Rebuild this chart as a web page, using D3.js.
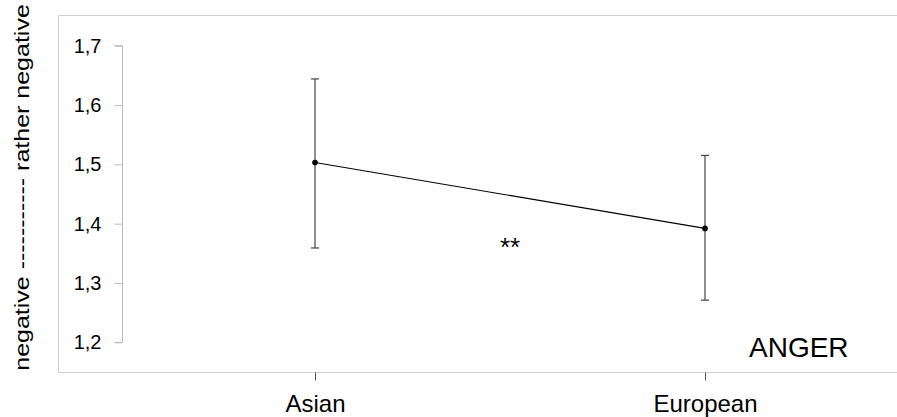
<!DOCTYPE html>
<html>
<head>
<meta charset="utf-8">
<script src="https://cdn.jsdelivr.net/npm/d3@7"></script>
<style>
  html, body { margin: 0; padding: 0; background: #fff; }
  svg { display: block; font-family: "Liberation Sans", Arial, sans-serif; }
</style>
</head>
<body>
<svg id="chart" width="897" height="417"></svg>
<script>
const categories = ["Asian", "European"];
const means = [1.503, 1.392];
const lowerCI = [1.359, 1.271];
const upperCI = [1.644, 1.515];
const yTicks = [1.2, 1.3, 1.4, 1.5, 1.6, 1.7];
const yTitle = "negative ----------- rather negative";
const significance = "**";
const panelLabel = "ANGER";

const svg = d3.select("#chart");

const x = d3.scalePoint().domain(categories).range([120, 900]).padding(0.5);
const y = d3.scaleLinear().domain([1.2, 1.7]).range([342.3, 45.7]);

// outer frame (top, left, bottom)
const frame = svg.append("g").attr("stroke", "#cfcfcf").attr("stroke-width", 1).attr("fill", "none");
frame.append("line").attr("x1", 58.5).attr("x2", 897).attr("y1", 15.5).attr("y2", 15.5);
frame.append("line").attr("x1", 58.5).attr("x2", 58.5).attr("y1", 15.5).attr("y2", 372.5);
frame.append("line").attr("x1", 58.5).attr("x2", 897).attr("y1", 372.5).attr("y2", 372.5);

// y axis
const yAxis = d3.axisLeft(y).tickValues(yTicks).tickSize(8).tickPadding(13)
  .tickFormat(d => d3.format(".1f")(d).replace(".", ","));
const gy = svg.append("g").attr("transform", "translate(122.5,0)").call(yAxis);
gy.select(".domain").attr("stroke", "#bdbdbd").attr("d", `M-8,${y(1.7)}H0V${y(1.2)}H-8`);
gy.selectAll(".tick line").attr("stroke", "#bdbdbd");
gy.selectAll(".tick text").attr("font-size", 20).attr("fill", "#000")
  .attr("font-family", "Liberation Sans, Arial, sans-serif");

// x axis
const xAxis = d3.axisBottom(x).tickSize(8).tickPadding(14);
const gx = svg.append("g").attr("transform", "translate(0,372.5)").call(xAxis);
gx.select(".domain").remove();
gx.selectAll(".tick line").attr("stroke", "#555");
gx.selectAll(".tick text").attr("font-size", 24).attr("fill", "#000")
  .attr("font-family", "Liberation Sans, Arial, sans-serif");

// y title
svg.append("text")
  .attr("transform", `translate(29,187.5) rotate(-90) scale(1,0.8)`)
  .attr("text-anchor", "middle")
  .attr("font-size", 25)
  .attr("fill", "#000")
  .text(yTitle);

const data = categories.map((c, i) => ({ c, m: means[i], lo: lowerCI[i], hi: upperCI[i] }));

// error bars
const eb = svg.append("g").attr("stroke", "#444").attr("stroke-width", 1.2);
data.forEach(d => {
  const cx = x(d.c);
  eb.append("line").attr("x1", cx).attr("x2", cx).attr("y1", y(d.hi)).attr("y2", y(d.lo));
  eb.append("line").attr("x1", cx - 4).attr("x2", cx + 4).attr("y1", y(d.hi)).attr("y2", y(d.hi));
  eb.append("line").attr("x1", cx - 4).attr("x2", cx + 4).attr("y1", y(d.lo)).attr("y2", y(d.lo));
});

// mean line
svg.append("path")
  .datum(data)
  .attr("fill", "none")
  .attr("stroke", "#000")
  .attr("stroke-width", 1.1)
  .attr("d", d3.line().x(d => x(d.c)).y(d => y(d.m)));

svg.append("g").selectAll("circle").data(data).join("circle")
  .attr("cx", d => x(d.c)).attr("cy", d => y(d.m)).attr("r", 2.8).attr("fill", "#000");

// significance
svg.append("text")
  .attr("x", (x(categories[0]) + x(categories[1])) / 2)
  .attr("y", 256)
  .attr("text-anchor", "middle")
  .attr("font-size", 26)
  .text(significance);

// panel label
svg.append("text")
  .attr("x", 749)
  .attr("y", 357)
  .attr("font-size", 28)
  .text(panelLabel);
</script>
</body>
</html>
